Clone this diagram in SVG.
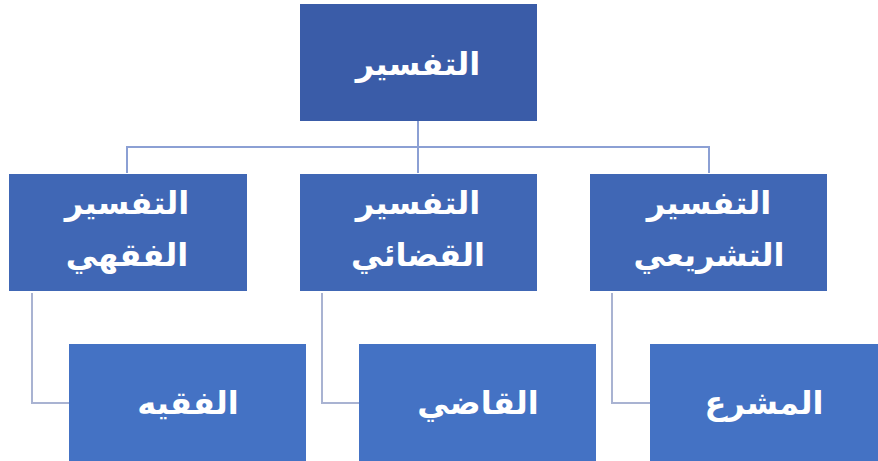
<svg xmlns="http://www.w3.org/2000/svg" width="878" height="461" viewBox="0 0 878 461">
<style>
.t{font-family:"DejaVu Sans","Noto Sans",sans-serif;font-weight:bold;fill:#fff;text-anchor:middle;direction:rtl;font-size:32px}
.c{fill:none;stroke-width:2}
</style>
<rect width="878" height="461" fill="#fff"/>
<g id="connectors">
<path class="c" stroke="#8CA0D4" d="M418 121V147M127 173V147H709V173M418 147V173"/>
<path class="c" stroke="#A9B3D2" d="M32 293V403H69M322 293V403H359M612 293V403H650"/>
</g>
<g id="n0"><rect x="300" y="4" width="237" height="117" fill="#3A5CA8"/><text class="t" x="418" y="75">التفسير</text></g>
<g id="n1"><rect x="9" y="174" width="238" height="117" fill="#4067B5"/><text class="t" x="127" y="214">التفسير</text><text class="t" x="127" y="266">الفقهي</text></g>
<g id="n2"><rect x="300" y="174" width="237" height="117" fill="#4067B5"/><text class="t" x="418" y="214">التفسير</text><text class="t" x="418" y="266">القضائي</text></g>
<g id="n3"><rect x="590" y="174" width="237" height="117" fill="#4067B5"/><text class="t" x="709" y="214">التفسير</text><text class="t" x="709" y="266">التشريعي</text></g>
<g id="n4"><rect x="69" y="344" width="237" height="117" fill="#4472C4"/><text class="t" x="188" y="414">الفقيه</text></g>
<g id="n5"><rect x="359" y="344" width="237" height="117" fill="#4472C4"/><text class="t" x="478" y="414">القاضي</text></g>
<g id="n6"><rect x="650" y="344" width="228" height="117" fill="#4472C4"/><text class="t" x="764" y="414">المشرع</text></g>
</svg>
